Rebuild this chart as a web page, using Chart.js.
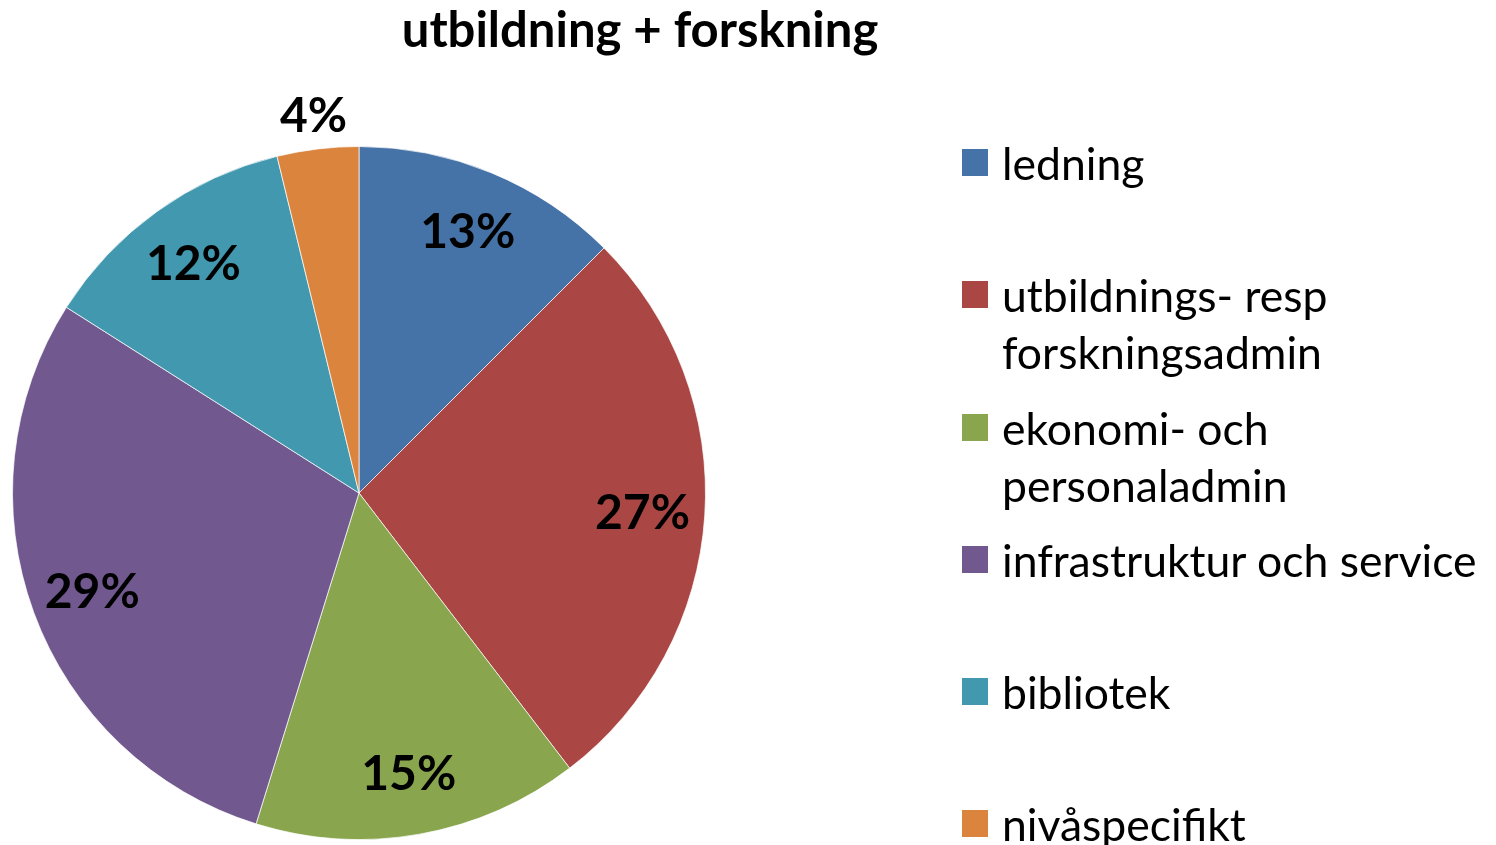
<!DOCTYPE html>
<html>
<head>
<meta charset="utf-8">
<script src="https://cdn.jsdelivr.net/npm/chart.js@4/dist/chart.umd.min.js"></script>
<style>
  html, body { margin: 0; padding: 0; background: #fff; }
  #wrap { position: relative; width: 1496px; height: 845px; overflow: hidden; }
  #c { position: absolute; left: 0; top: 0; }
  #title { position: absolute; left: 290px; width: 700px; top: 2px; text-align: center;
           font-family: Lato, "Open Sans", sans-serif; font-weight: bold; font-size: 49px; line-height: 52px; color: #000; }
  #legend { position: absolute; left: 962px; top: 134px; font-family: Lato, "Open Sans", sans-serif; font-size: 44.5px; line-height: 57px; color: #000; }
  .item { position: relative; height: 132.3px; padding-left: 40px; white-space: nowrap; }
  .sw { position: absolute; left: 0; top: 15px; width: 26px; height: 27px; }
</style>
</head>
<body>
<div id="wrap">
  <canvas id="c" width="1496" height="845"></canvas>
  <div id="title">utbildning + forskning</div>
  <div id="legend"></div>
</div>
<script>
const titleText = 'utbildning + forskning';
const categories = ['ledning', 'utbildnings- resp forskningsadmin', 'ekonomi- och personaladmin', 'infrastruktur och service', 'bibliotek', 'nivåspecifikt'];
const legendLines = [['ledning'], ['utbildnings- resp', 'forskningsadmin'], ['ekonomi- och', 'personaladmin'], ['infrastruktur och service'], ['bibliotek'], ['nivåspecifikt']];
const shares = [12.5, 27.1, 15.2, 29.2, 12.2, 3.8];
const colors = ['#4572A7', '#AA4643', '#89A54E', '#71588F', '#4198AF', '#DB843D'];

document.getElementById('title').textContent = titleText;

const legend = document.getElementById('legend');
legendLines.forEach((lines, i) => {
  const d = document.createElement('div');
  d.className = 'item';
  const sw = document.createElement('div');
  sw.className = 'sw';
  sw.style.background = colors[i];
  d.appendChild(sw);
  lines.forEach(t => { const l = document.createElement('div'); l.textContent = t; d.appendChild(l); });
  legend.appendChild(d);
});

const pctLabels = {
  id: 'pctLabels',
  afterDatasetsDraw(chart, args, opts) {
    const ctx = chart.ctx;
    const meta = chart.getDatasetMeta(0);
    const data = chart.data.datasets[0].data;
    const total = data.reduce((a, b) => a + b, 0);
    ctx.save();
    ctx.font = opts.font;
    ctx.fillStyle = '#000';
    ctx.textAlign = 'center';
    ctx.textBaseline = 'middle';
    meta.data.forEach((arc, i) => {
      const p = arc.getProps(['x', 'y', 'startAngle', 'endAngle', 'outerRadius'], true);
      const pct = data[i] / total * 100;
      const mid = (p.startAngle + p.endAngle) / 2;
      const f = pct < opts.outsideBelow ? opts.outsideRadius : opts.insideRadius;
      const r = p.outerRadius * f;
      ctx.fillText(Math.round(pct) + '%', p.x + Math.cos(mid) * r, p.y + Math.sin(mid) * r + 2);
    });
    ctx.restore();
  }
};

new Chart(document.getElementById('c'), {
  type: 'pie',
  data: {
    labels: categories,
    datasets: [{
      data: shares,
      backgroundColor: colors,
      borderColor: 'rgba(255,255,255,0.7)',
      borderWidth: 1
    }]
  },
  options: {
    responsive: false,
    animation: false,
    layout: { padding: { left: 12, right: 790, top: 146, bottom: 5 } },
    plugins: {
      legend: { display: false },
      title: { display: false },
      tooltip: { enabled: false },
      pctLabels: { font: 'bold 48px Lato, "Open Sans", sans-serif', insideRadius: 0.82, outsideRadius: 1.1, outsideBelow: 5 }
    }
  },
  plugins: [pctLabels]
});
</script>
</body>
</html>
